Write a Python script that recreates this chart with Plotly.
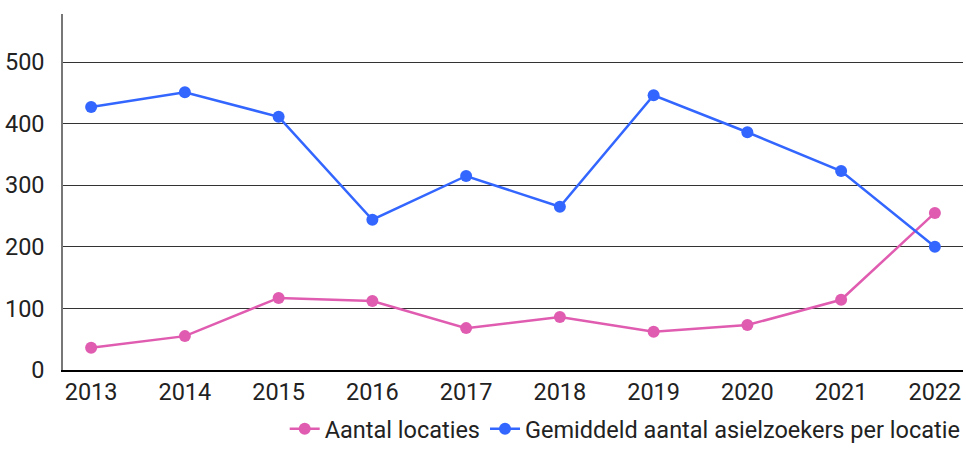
import plotly.graph_objects as go

years = ["2013", "2014", "2015", "2016", "2017", "2018", "2019", "2020", "2021", "2022"]
aantal_locaties = [36, 55, 117, 112, 68, 86, 62, 73, 114, 255]
gemiddeld_per_locatie = [427, 451, 411, 244, 315, 265, 446, 386, 323, 200]

fig = go.Figure()
fig.add_trace(go.Scatter(x=years, y=aantal_locaties, name="Aantal locaties",
                         mode="lines+markers", line=dict(color="#e05cb0", width=2.5),
                         marker=dict(size=12, color="#e05cb0")))
fig.add_trace(go.Scatter(x=years, y=gemiddeld_per_locatie, name="Gemiddeld aantal asielzoekers per locatie",
                         mode="lines+markers", line=dict(color="#3366ff", width=2.5),
                         marker=dict(size=12, color="#3366ff")))

fig.update_layout(
    width=966, height=451,
    margin=dict(l=63, r=3, t=14, b=81, autoexpand=False),
    paper_bgcolor="white", plot_bgcolor="white",
    font=dict(family="Roboto", size=23.5, color="#222222"),
    showlegend=True,
    legend=dict(orientation="h", x=1.003, xanchor="right", y=-0.2275, yanchor="bottom",
                font=dict(size=23.5), traceorder="normal"),
    xaxis=dict(type="category", range=[-0.3, 9.3], showgrid=False, automargin=False,
               showline=True, linecolor="black", linewidth=2, ticks="", ticklen=0),
    yaxis=dict(range=[0, 578], tickvals=[0, 100, 200, 300, 400, 500], automargin=False,
               showgrid=True, gridcolor="#333333", gridwidth=1, zeroline=False,
               showline=True, linecolor="#777777", linewidth=1.5, ticks="",
               ticklabelstandoff=12),
)

fig.write_html("out.html", config={"displayModeBar": False},
               post_script="document.body.style.margin='0';")
